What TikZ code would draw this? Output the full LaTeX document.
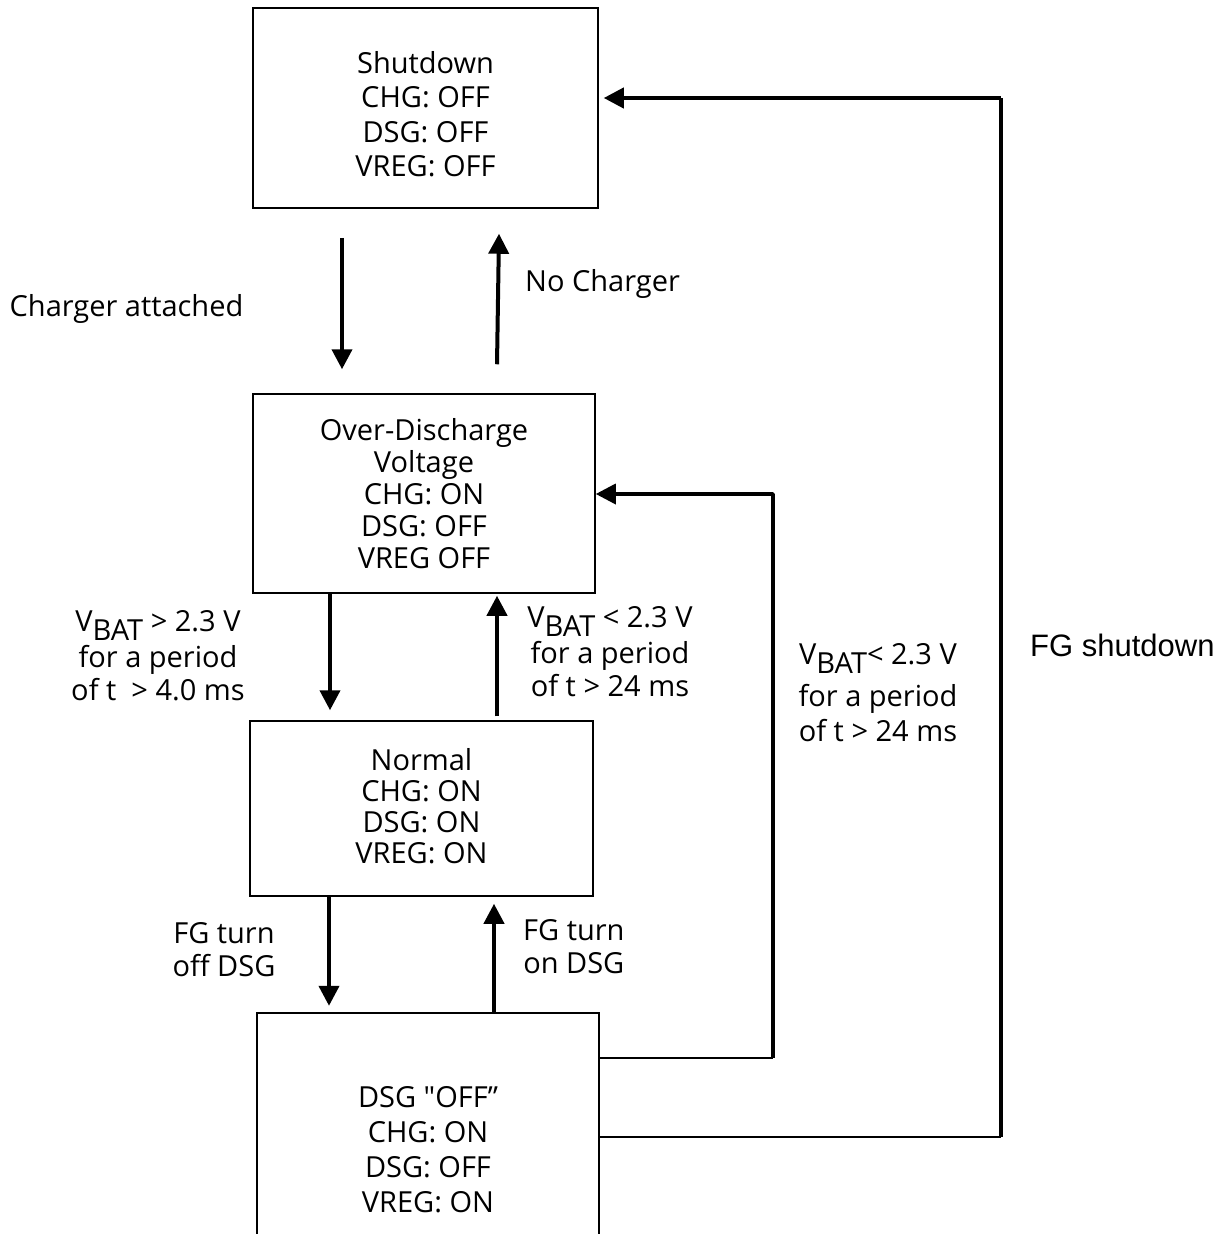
\documentclass[tikz,border=0pt]{standalone}
\usepackage{fontspec}
\setmainfont{Open Sans}
\newfontfamily\osraw{Open Sans}[Ligatures=TeXOff]
\newfontfamily\arialfont{Liberation Sans}
\usetikzlibrary{arrows.meta,calc}
\tikzset{
  box/.style={draw, line width=1.5pt, inner sep=0pt},
  lbl/.style={align=center, inner sep=0pt, font=\fontsize{29}{33}\selectfont},
  arr/.style={line width=4pt, -{Triangle[width=20pt,length=20pt]}},
  thinln/.style={line width=1.5pt},
  thickln/.style={line width=3.5pt, line join=round},
}
\newcommand{\vbat}{V\raisebox{-0.3em}{BAT}}
\begin{document}
\begin{tikzpicture}[x=1pt,y=-1pt]
\useasboundingbox (0,0) rectangle (1225,1234);
% states
\node[box, minimum width=345pt, minimum height=200pt] (sd) at (425.5,108) {};
\node[lbl, font=\fontsize{29}{34.5}\selectfont] (sdt) at (425.5,114)
  {Shutdown\\CHG: OFF\\DSG: OFF\\VREG: OFF};
\node[box, minimum width=342pt, minimum height=199pt, align=center,
  font=\fontsize{29}{32}\selectfont] (od) at (424,493.5)
  {Over-Discharge\\Voltage\\CHG: ON\\DSG: OFF\\VREG OFF};
\node[box, minimum width=343pt, minimum height=175pt] (nm) at (421.5,808.5) {};
\node[lbl, font=\fontsize{29}{31}\selectfont] (nmt) at (421.5,806)
  {Normal\\CHG: ON\\DSG: ON\\VREG: ON};
\node[minimum width=342pt, minimum height=270pt, inner sep=0pt] (dsg) at (428,1148) {};
\node[lbl, font=\fontsize{29}{35}\selectfont] (dsgt) at (428,1150)
  {DSG {\osraw"}OFF''\\CHG: ON\\DSG: OFF\\VREG: ON};
\draw[line width=1.5pt] (dsg.south west) -- (dsg.north west) -- (dsg.north east) -- (dsg.south east);
% vertical transitions
\draw[arr] ($(sd.south -| 342,0)+(0,29)$) -- ($(od.north -| 342,0)+(0,-24)$);
\draw[arr] ($(od.north -| 497,0)+(0,-29)$) -- ($(sd.south -| 499,0)+(0,25)$);
\draw[arr] (od.south -| 330,0) -- ($(nm.north -| 330,0)+(0,-10)$);
\draw[arr] ($(nm.north -| 497,0)+(0,-4)$) -- ($(od.south -| 497,0)+(0,2)$);
\draw[arr] (nm.south -| 329,0) -- ($(dsg.north -| 329,0)+(0,-7)$);
\draw[arr] (dsg.north -| 494,0) -- ($(nm.south -| 494,0)+(0,7)$);
% return paths
\coordinate (c1) at (773,1058);
\coordinate (c2) at (773,494);
\draw[thinln] (dsg.east |- c1) -- (c1);
\draw[thickln, -{Triangle[width=20pt,length=20pt]}] (c1) -- (c2) -- (od.east |- c2);
\coordinate (c3) at (1001,1137);
\coordinate (c4) at (1001,98);
\draw[thinln] (dsg.east |- c3) -- (c3);
\draw[thickln] (c3) -- (c4);
\draw[line width=4pt, line join=round, -{Triangle[width=20pt,length=20pt]}] (c4) -- ($(sd.east |- c4)+(5,0)$);
% labels
\node[lbl] (l1) at (126.5,309) {Charger attached};
\node[lbl, anchor=west] (l2) at (525,284) {No Charger};
\node[lbl] (l3) at (158,656) {\vbat{} > 2.3 V\\[3pt]for a period\\of t\ \ > 4.0 ms};
\node[lbl] (l4) at (610,652) {\vbat{} < 2.3 V\\[3pt]for a period\\of t > 24 ms};
\node[lbl] (l5) at (878,693) {\vbat< 2.3 V\\[9pt]for a period\\[2pt]of t > 24 ms};
\node[lbl] (l6) at (224,950) {FG turn\\off DSG};
\node[lbl, anchor=west] (l7) at (523,947) {FG turn\\on DSG};
\node[inner sep=0pt, anchor=west, font=\arialfont\fontsize{31}{35}\selectfont] (l8) at (1030,645) {FG shutdown};
\end{tikzpicture}
\end{document}
